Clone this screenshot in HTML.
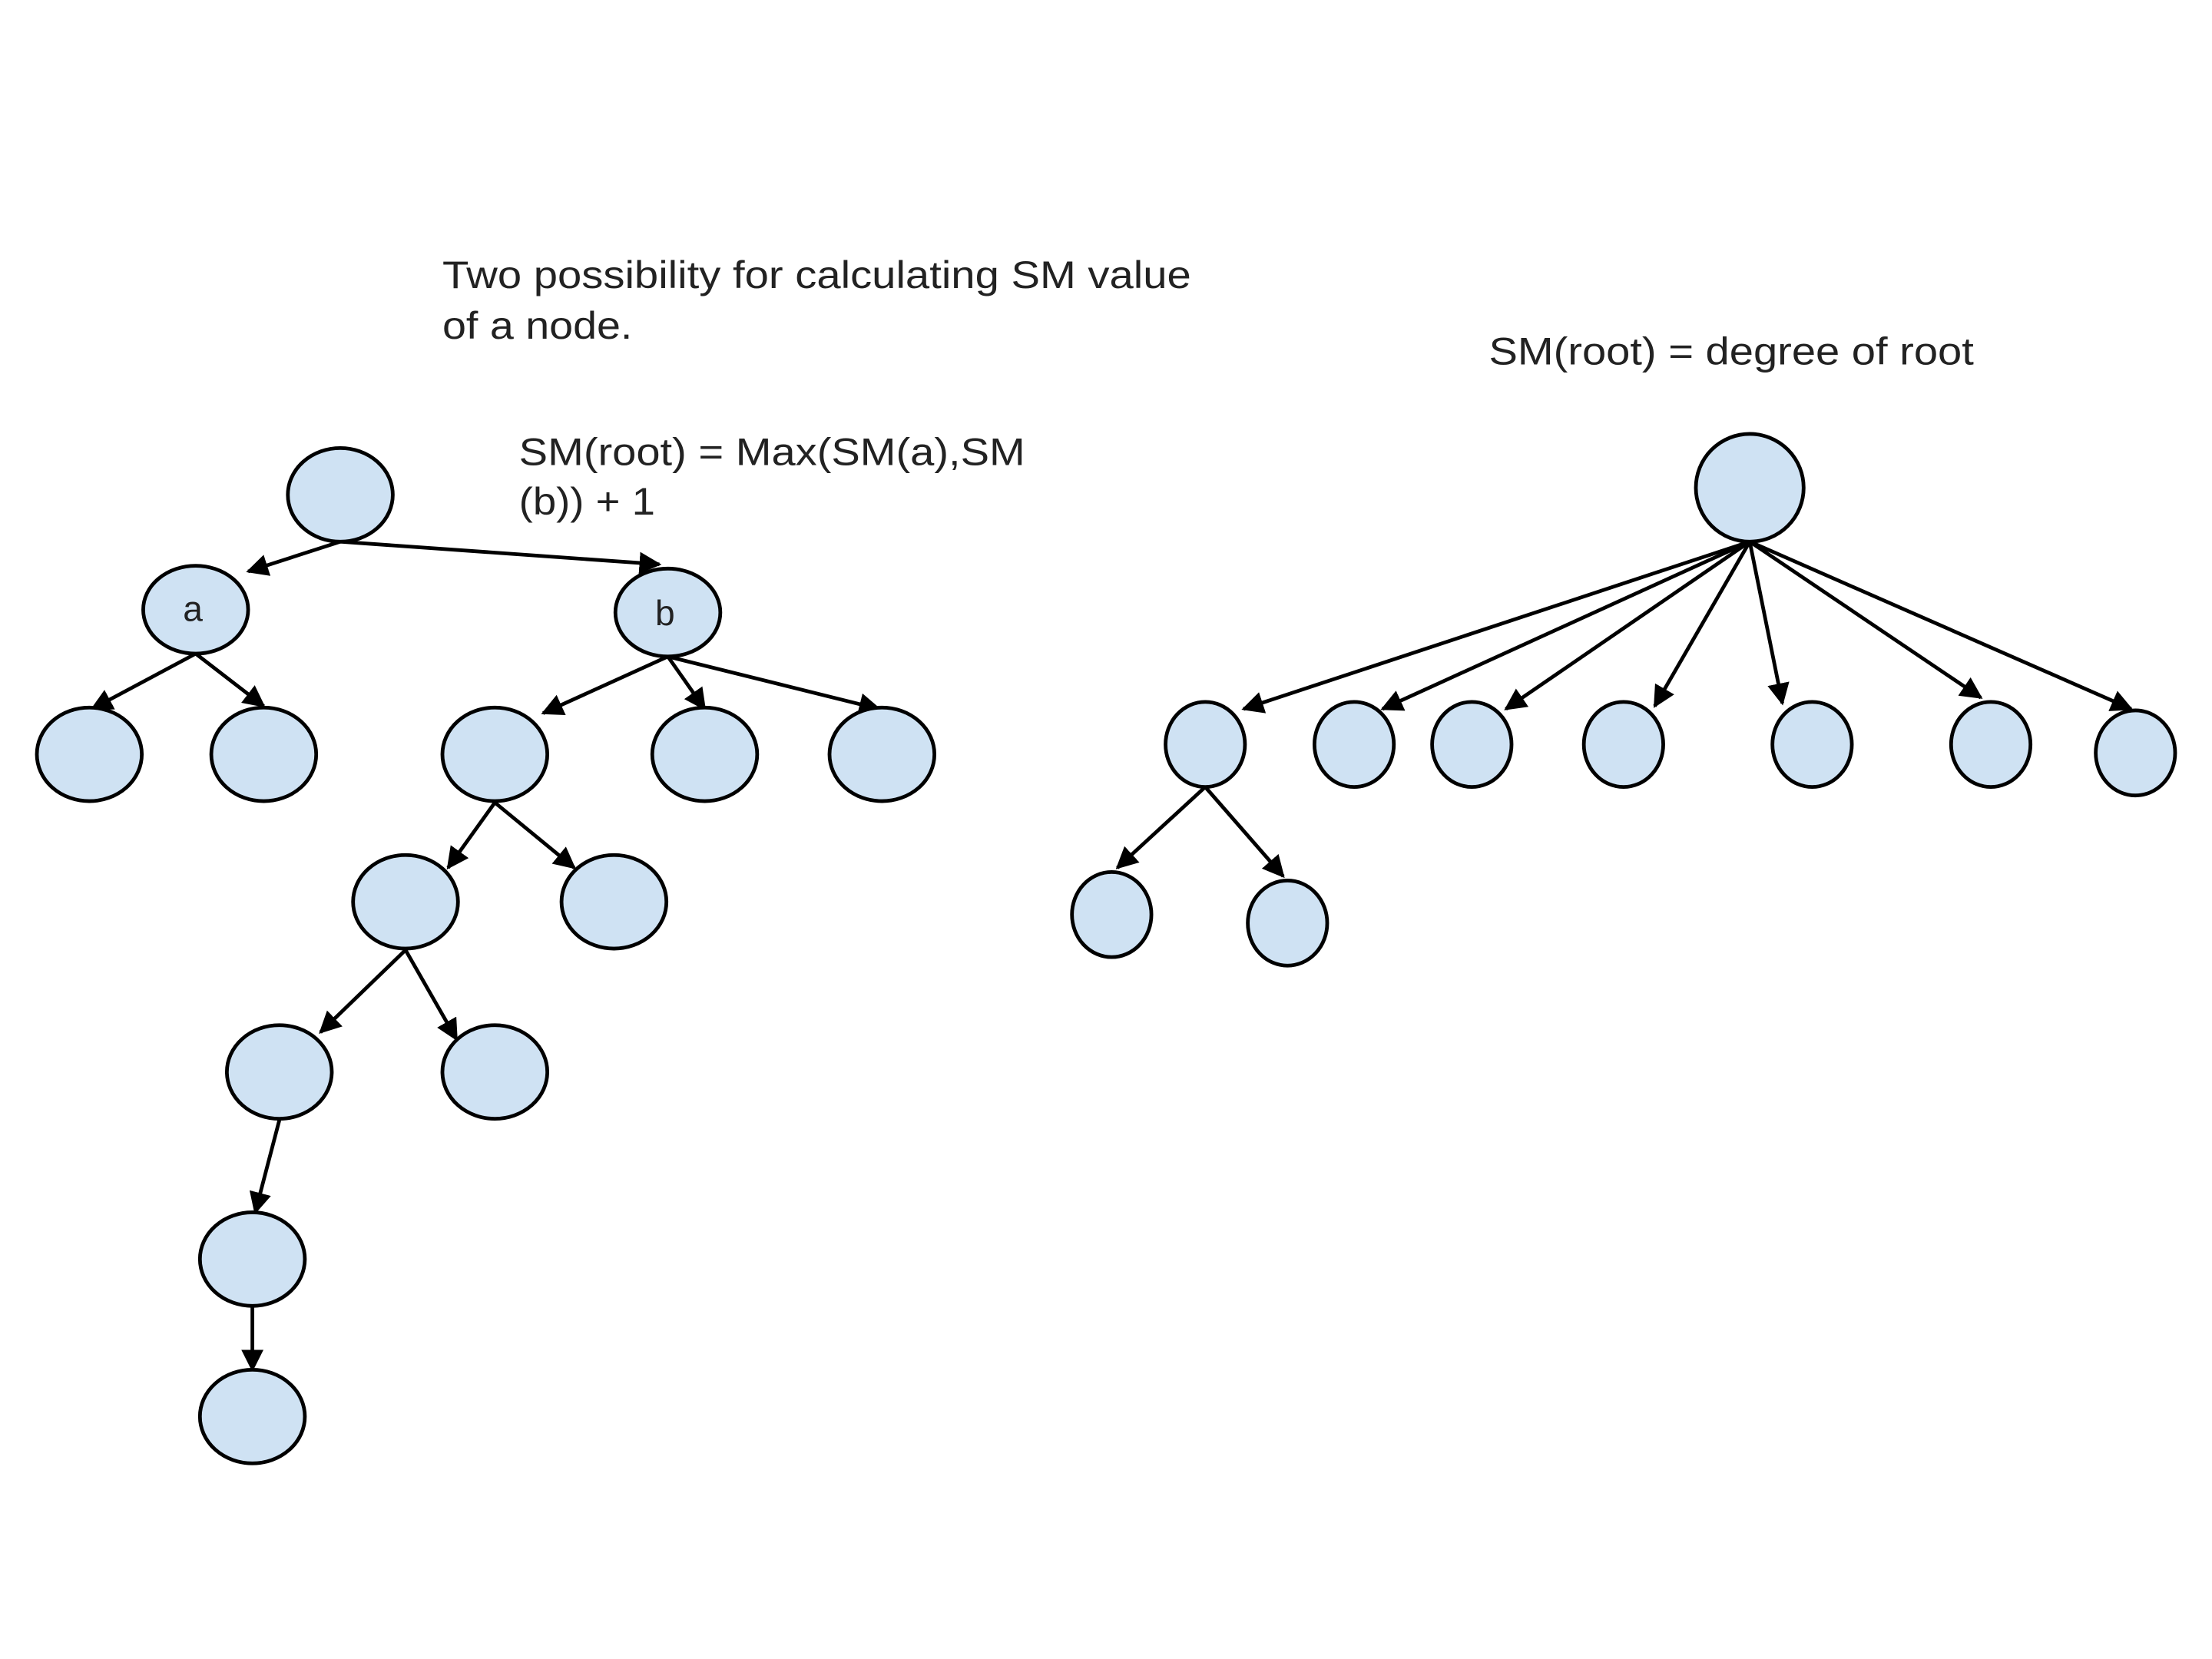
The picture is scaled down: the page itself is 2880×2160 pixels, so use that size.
<!DOCTYPE html>
<html><head><style>html,body{margin:0;padding:0;background:#fff}svg{display:block}</style></head>
<body>
<svg width="2880" height="2160" viewBox="0 0 1560 1170" xmlns="http://www.w3.org/2000/svg">
<defs><marker id="ar" viewBox="0 0 10 10" refX="9" refY="5" markerWidth="6" markerHeight="6" orient="auto" markerUnits="strokeWidth"><path d="M0,0L10,5L0,10z" fill="#000"/></marker></defs>
<g font-family="Liberation Sans, sans-serif" font-size="27" fill="#222" lengthAdjust="spacingAndGlyphs">
<text x="312" y="203" textLength="528" lengthAdjust="spacingAndGlyphs">Two possibility for calculating SM value</text>
<text x="312" y="239" textLength="134" lengthAdjust="spacingAndGlyphs">of a node.</text>
<text x="366" y="328" textLength="357" lengthAdjust="spacingAndGlyphs">SM(root) = Max(SM(a),SM</text>
<text x="366" y="363" textLength="96" lengthAdjust="spacingAndGlyphs">(b)) + 1</text>
<text x="1050" y="257" textLength="342" lengthAdjust="spacingAndGlyphs">SM(root) = degree of root</text>
</g>
<g stroke="#000" stroke-width="2.6" fill="none" marker-end="url(#ar)">
<line x1="240" y1="382" x2="175" y2="403"/>
<line x1="240" y1="382" x2="465" y2="398"/>
<line x1="138" y1="461" x2="65" y2="500"/>
<line x1="138" y1="461" x2="186" y2="498"/>
<line x1="471" y1="463" x2="383" y2="503"/>
<line x1="471" y1="463" x2="497" y2="500"/>
<line x1="471" y1="463" x2="620" y2="500"/>
<line x1="349" y1="566" x2="316" y2="612"/>
<line x1="349" y1="566" x2="405" y2="612"/>
<line x1="286" y1="670" x2="226" y2="728"/>
<line x1="286" y1="670" x2="322" y2="733"/>
<line x1="197" y1="790" x2="180" y2="855"/>
<line x1="178" y1="921" x2="178" y2="966"/>
<line x1="1234" y1="382" x2="877" y2="500"/>
<line x1="1234" y1="382" x2="975" y2="500"/>
<line x1="1234" y1="382" x2="1062" y2="500"/>
<line x1="1234" y1="382" x2="1167" y2="498"/>
<line x1="1234" y1="382" x2="1257" y2="496"/>
<line x1="1234" y1="382" x2="1397" y2="492"/>
<line x1="1234" y1="382" x2="1503" y2="500"/>
<line x1="850" y1="555" x2="788" y2="612"/>
<line x1="850" y1="555" x2="905" y2="618"/>
</g>
<g fill="#cfe2f3" stroke="#000" stroke-width="2.6">
<ellipse cx="240" cy="349" rx="37" ry="33"/>
<ellipse cx="138" cy="430" rx="37" ry="31"/>
<ellipse cx="471" cy="432" rx="37" ry="31"/>
<ellipse cx="63" cy="532" rx="37" ry="33"/>
<ellipse cx="186" cy="532" rx="37" ry="33"/>
<ellipse cx="349" cy="532" rx="37" ry="33"/>
<ellipse cx="497" cy="532" rx="37" ry="33"/>
<ellipse cx="622" cy="532" rx="37" ry="33"/>
<ellipse cx="286" cy="636" rx="37" ry="33"/>
<ellipse cx="433" cy="636" rx="37" ry="33"/>
<ellipse cx="197" cy="756" rx="37" ry="33"/>
<ellipse cx="349" cy="756" rx="37" ry="33"/>
<ellipse cx="178" cy="888" rx="37" ry="33"/>
<ellipse cx="178" cy="999" rx="37" ry="33"/>
<ellipse cx="1234" cy="344" rx="38" ry="38"/>
<ellipse cx="850" cy="525" rx="28" ry="30"/>
<ellipse cx="955" cy="525" rx="28" ry="30"/>
<ellipse cx="1038" cy="525" rx="28" ry="30"/>
<ellipse cx="1145" cy="525" rx="28" ry="30"/>
<ellipse cx="1278" cy="525" rx="28" ry="30"/>
<ellipse cx="1404" cy="525" rx="28" ry="30"/>
<ellipse cx="1506" cy="531" rx="28" ry="30"/>
<ellipse cx="784" cy="645" rx="28" ry="30"/>
<ellipse cx="908" cy="651" rx="28" ry="30"/>
</g>
<g font-family="Liberation Sans, sans-serif" font-size="25" fill="#222" text-anchor="middle">
<text x="136" y="438">a</text>
<text x="469" y="441">b</text>
</g>
</svg>
</body></html>
